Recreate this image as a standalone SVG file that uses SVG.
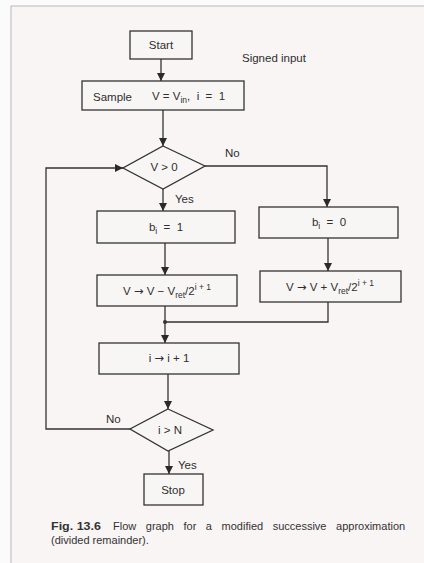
<svg xmlns="http://www.w3.org/2000/svg" width="424" height="563" viewBox="0 0 424 563">
<defs>
<marker id="ah" viewBox="0 0 10 10" refX="10" refY="5" markerWidth="8" markerHeight="8" markerUnits="userSpaceOnUse" orient="auto">
<path d="M0,0 L10,5 L0,10 z" fill="#2a2a2a"/>
</marker>
<style>
.n{fill:#f8f6f5;stroke:#333;stroke-width:1.3}
.t{font-family:"Liberation Sans",Arial,sans-serif;font-size:11.5px;fill:#2e2e2e}
.ar{font-family:"DejaVu Sans",sans-serif}
.c{fill:none;stroke:#333;stroke-width:1.3}
.a{marker-end:url(#ah)}
.cap{font-family:"Liberation Sans",Arial,sans-serif;font-size:11px;fill:#333}
</style>
</defs>
<rect x="0" y="0" width="424" height="563" fill="#fbfbfb"/>
<rect x="11" y="6" width="420" height="570" fill="#f8f5f4" stroke="#b8b8b8" stroke-width="1"/>

<g id="connectors">
<path class="c a" d="M161,59 V81"/>
<path class="c a" d="M163,110 V146"/>
<path class="c a" d="M205,166 H327 V207"/>
<path class="c a" d="M163,189 V211"/>
<path class="c a" d="M165,243 V275"/>
<path class="c a" d="M328,238 V271"/>
<path class="c a" d="M165,306 V343"/>
<path class="c" d="M328,302 V322 H165"/>
<circle cx="165" cy="322" r="2" fill="#333"/>
<path class="c a" d="M168,374 V409"/>
<path class="c a" d="M130,429 H46 V168 H123"/>
<path class="c a" d="M169,451 V474"/>
<text class="t" x="225" y="157">No</text>
<text class="t" x="175" y="203">Yes</text>
<text class="t" x="106" y="423">No</text>
<text class="t" x="178" y="469">Yes</text>
</g>

<g id="start">
<rect class="n" x="130" y="31" width="62" height="28"/>
<text class="t" x="161" y="49" text-anchor="middle">Start</text>
</g>
<text class="t" x="242" y="62">Signed input</text>

<g id="sample">
<rect class="n" x="82" y="81" width="162" height="29"/>
<text class="t" x="93" y="101">Sample</text>
<text class="t" x="152" y="100">V = V<tspan font-size="8.5" dy="2.5">in</tspan><tspan dy="-2.5">,&#160; i&#160; =&#160; 1</tspan></text>
</g>

<g id="cond1">
<polygon class="n" points="163,146 205,166 163,189 123,168"/>
<text class="t" x="164" y="171" text-anchor="middle">V &gt; 0</text>
</g>

<g id="b1">
<rect class="n" x="97" y="211" width="138" height="32"/>
<text class="t" x="166" y="231" text-anchor="middle">b<tspan font-size="8.5" dy="2.5">i</tspan><tspan dy="-2.5"> &#160;= &#160;1</tspan></text>
</g>

<g id="b0">
<rect class="n" x="259" y="207" width="139" height="31"/>
<text class="t" x="329" y="226" text-anchor="middle">b<tspan font-size="8.5" dy="2.5">i</tspan><tspan dy="-2.5"> &#160;= &#160;0</tspan></text>
</g>

<g id="sub">
<rect class="n" x="97" y="275" width="140" height="31"/>
<text class="t" x="167" y="295" text-anchor="middle" font-size="12">V <tspan class="ar">→</tspan> V − V<tspan font-size="8.5" dy="2.5">ret</tspan><tspan dy="-2.5">/2</tspan><tspan font-size="8.5" dy="-5">i + 1</tspan></text>
</g>

<g id="add">
<rect class="n" x="260" y="271" width="141" height="31"/>
<text class="t" x="330" y="291" text-anchor="middle" font-size="12">V <tspan class="ar">→</tspan> V + V<tspan font-size="8.5" dy="2.5">ret</tspan><tspan dy="-2.5">/2</tspan><tspan font-size="8.5" dy="-5">i + 1</tspan></text>
</g>

<g id="inc">
<rect class="n" x="99" y="343" width="140" height="31"/>
<text class="t" x="169" y="362" text-anchor="middle">i <tspan class="ar">→</tspan> i + 1</text>
</g>

<g id="cond2">
<polygon class="n" points="168,409 213,430 168,451 130,429"/>
<text class="t" x="170" y="434" text-anchor="middle">i &gt; N</text>
</g>

<g id="stop">
<rect class="n" x="144" y="474" width="59" height="31"/>
<text class="t" x="173" y="494" text-anchor="middle">Stop</text>
</g>

<text class="cap" x="51" y="530" font-weight="bold" textLength="50" lengthAdjust="spacingAndGlyphs">Fig. 13.6</text>
<text class="cap" x="113" y="530" word-spacing="6.5">Flow graph for a modified successive approximation</text>
<text class="cap" x="51" y="544">(divided remainder).</text>
</svg>
